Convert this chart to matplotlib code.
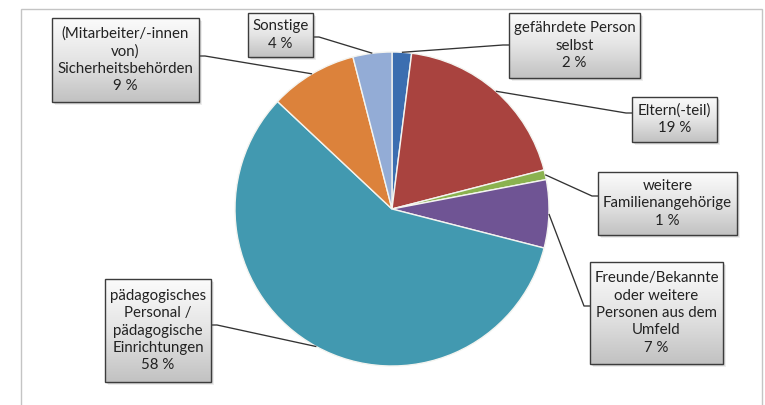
import numpy as np
import matplotlib
matplotlib.use("Agg")
import matplotlib.pyplot as plt
from matplotlib.patches import Rectangle
from matplotlib.colors import LinearSegmentedColormap

# Who reported the case (share in percent), clockwise from 12 o'clock
categories = [
    "gefährdete Person\nselbst",
    "Eltern(-teil)",
    "weitere\nFamilienangehörige",
    "Freunde/Bekannte\noder weitere\nPersonen aus dem\nUmfeld",
    "pädagogisches\nPersonal /\npädagogische\nEinrichtungen",
    "(Mitarbeiter/-innen\nvon)\nSicherheitsbehörden",
    "Sonstige",
]
shares = [2, 19, 1, 7, 58, 9, 4]
colors = ["#3b6eb0", "#a9433f", "#8ab24f", "#6f5494", "#4299b0", "#dc823b", "#93acd6"]

W, H = 765, 405
CX, CY, R = 392, 209, 157          # pie centre / radius in pixels (y downwards)

# label boxes: (x0, y0, x1, y1) in pixels, y downwards
boxes = [
    (509, 13, 640, 78),
    (632, 97, 717, 142),
    (598, 172, 737, 235),
    (590, 262, 723, 364),
    (105, 279, 211, 382),
    (52, 18, 199, 102),
    (248, 13, 313, 57),
]
# point on the box edge where the leader line starts
leader_start = [
    (509, 45),
    (632, 113),
    (598, 196),
    (590, 306),
    (211, 325),
    (199, 56),
    (313, 37),
]

def fy(y):
    return H - y

fig = plt.figure(figsize=(W / 100, H / 100), dpi=100)
ax = fig.add_axes([0, 0, 1, 1])
ax.set_axis_off()

# chart frame
ax.add_patch(Rectangle((21, fy(412)), 741, 403, fill=False,
                       edgecolor="#c4c4c4", linewidth=1.0, zorder=0))

wedges, _ = ax.pie(shares, colors=colors, startangle=90, counterclock=False,
                   center=(CX, fy(CY)), radius=R, normalize=True,
                   wedgeprops=dict(edgecolor="#f4f4f0", linewidth=1.0))
for w in wedges:
    w.set_zorder(2)

grad_cmap = LinearSegmentedColormap.from_list("box", ["#fbfbfb", "#e4e4e4", "#c2c2c2"])
grad = np.linspace(0, 1, 64).reshape(-1, 1)

cum = 0.0
total = float(sum(shares))
for label, share, box, start in zip(categories, shares, boxes, leader_start):
    mid = 2 * np.pi * (cum + share / 2) / total
    cum += share
    ax_x = CX + R * np.sin(mid)
    ax_y = CY - R * np.cos(mid)
    sx, sy = start
    # short horizontal stub leaving the box towards the pie
    stub = 6 if sx >= box[2] - 0.5 else -6
    ax.plot([sx, sx + stub, ax_x], [fy(sy), fy(sy), fy(ax_y)],
            color="#333333", linewidth=0.95, zorder=3, solid_capstyle="butt")

    x0, y0, x1, y1 = box
    # soft drop shadow
    for k, a in ((3, 0.10), (2, 0.16), (1, 0.22)):
        ax.add_patch(Rectangle((x0 + k, fy(y1 + k)), x1 - x0, y1 - y0,
                               facecolor="#555555", edgecolor="none", alpha=a, zorder=4))
    ax.imshow(grad, cmap=grad_cmap, extent=(x0, x1, fy(y1), fy(y0)),
              aspect="auto", zorder=5, interpolation="bilinear")
    ax.add_patch(Rectangle((x0, fy(y1)), x1 - x0, y1 - y0, fill=False,
                           edgecolor="#3c3c3c", linewidth=1.0, zorder=6))
    ax.text((x0 + x1) / 2, fy((y0 + y1) / 2), f"{label}\n{share} %",
            ha="center", va="center", multialignment="center",
            fontsize=10.8, linespacing=1.3, color="#222222",
            family=["Lato", "DejaVu Sans"], zorder=7)

ax.set_xlim(0, W)
ax.set_ylim(0, H)
ax.set_aspect("auto")
fig.savefig("out.png", dpi=100, facecolor="white")
